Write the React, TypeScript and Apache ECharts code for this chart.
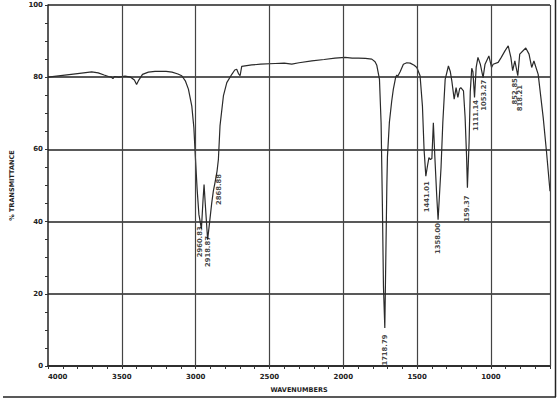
import React, { useEffect, useRef } from "react";
import * as echarts from "echarts";

const wavenumbers = [
  4000, 3900, 3800, 3704, 3660, 3620, 3590, 3570, 3560, 3550, 3520, 3478, 3440, 3415, 3400, 3385, 3360, 3320, 3275, 3200,
  3160, 3120, 3094, 3070, 3049, 3026, 3012, 3002, 2990, 2978, 2960.83, 2950, 2943, 2935, 2918.87, 2905, 2891, 2880, 2868.88, 2855,
  2846, 2835, 2812, 2789, 2755, 2735, 2722, 2710, 2699, 2688, 2620, 2560, 2462, 2400, 2349, 2300, 2213, 2130, 2056, 1988,
  1940, 1898, 1850, 1807, 1785, 1773, 1760, 1755, 1744, 1735, 1728, 1718.79, 1712, 1705, 1701, 1688, 1672, 1661, 1650, 1645,
  1638, 1632, 1615, 1593, 1570, 1547, 1520, 1502, 1480, 1464, 1453, 1441.01, 1430, 1420, 1410, 1400, 1390, 1380, 1367, 1358,
  1345, 1338, 1326, 1310, 1288, 1275, 1265, 1249, 1236, 1224, 1212, 1204, 1186, 1175, 1165, 1159.37, 1148, 1140, 1130, 1122,
  1111.14, 1100, 1088, 1072, 1053.27, 1040, 1014, 996, 985, 951, 930, 905, 883, 865, 852.85, 838, 818.21, 805, 764, 742,
  724, 709, 680, 646, 624, 600
];
const transmittance = [
  80.0, 80.5, 81.0, 81.5, 81.2, 80.6, 80.2, 80.0, 79.6, 80.2, 80.0, 80.3, 80.0, 79.2, 78.0, 79.2, 80.8, 81.4, 81.6, 81.6,
  81.4, 80.9, 80.4, 79.0, 76.7, 72.0, 66.0, 58.0, 49.0, 42.0, 38.0, 46.0, 50.3, 45.0, 35.0, 40.0, 45.2, 48.5, 50.8, 54.0,
  57.2, 66.5, 74.8, 78.5, 80.8, 82.0, 82.2, 81.0, 80.4, 83.0, 83.4, 83.6, 83.8, 83.9, 83.6, 84.0, 84.5, 84.9, 85.3, 85.5,
  85.3, 85.3, 85.2, 85.0, 84.3, 83.3, 80.5, 79.4, 67.4, 44.0, 22.0, 10.5, 30.0, 50.0, 58.0, 67.4, 73.4, 76.7, 79.0, 80.0,
  80.6, 80.2, 81.5, 83.6, 84.0, 83.9, 83.3, 82.7, 80.4, 72.0, 60.0, 52.6, 55.4, 57.7, 57.2, 57.5, 67.4, 58.0, 47.0, 40.5,
  50.0, 55.0, 67.4, 79.4, 83.1, 81.5, 79.0, 73.9, 77.1, 74.4, 76.8, 77.1, 76.2, 68.9, 58.0, 49.4, 62.0, 76.0, 82.5, 81.5,
  74.4, 82.7, 85.5, 83.6, 79.9, 83.6, 85.9, 82.7, 83.6, 84.1, 85.5, 87.3, 88.7, 85.5, 81.8, 84.5, 80.4, 86.4, 88.1, 86.4,
  82.7, 84.5, 80.8, 68.8, 59.5, 48.4
];

const peakWavenumbers = [2960.83, 2918.87, 2868.88, 1718.79, 1441.01, 1358.0, 1159.37, 1111.14, 1053.27, 852.85, 818.21];
const peakLabels = ["2960.83", "2918.87", "2868.88", "1718.79", "1441.01", "1358.00", "159.37", "1111.14", "1053.27", "852.85", "818.21"];
const peakLabelLevels = [34.4, 31.7, 48.9, 4.4, 46.9, 35.3, 43.6, 69.4, 75.0, 76.1, 74.2];
const peakLabelShift = [-1, 0, 4, 0, 1, 0, 0, 1, 1, 2, 2];

const gridWavenumbers = [3500, 3000, 2500, 2000, 1500, 1000, 600];
const yTicks = [0, 20, 40, 60, 80, 100];

const FONT = "DejaVu Sans";

export default function App() {
  const ref = useRef<HTMLDivElement>(null);
  useEffect(() => {
    if (!ref.current) return;
    const chart = echarts.init(ref.current, undefined, { renderer: "svg" });
    const lineData = wavenumbers.map((w, i) => [w, transmittance[i]]);
    const textStyle = { fontSize: 7, fontWeight: "bold" as const, color: "#222", fontFamily: FONT };
    const labelData = peakWavenumbers.map((w, i) => ({
      value: [w, peakLabelLevels[i]],
      name: peakLabels[i],
      label: { position: [peakLabelShift[i], 0] },
    }));
    chart.setOption({
      animation: false,
      backgroundColor: "#fff",
      grid: { left: 48, right: 7, top: 5, bottom: 33 },
      xAxis: {
        type: "value",
        min: 600,
        max: 4000,
        interval: 100,
        inverse: true,
        axisLine: { show: true, lineStyle: { color: "#222", width: 1.5 } },
        axisTick: { show: true, length: 3, lineStyle: { color: "#333", width: 1 } },
        axisLabel: {
          ...textStyle,
          margin: 7,
          alignMaxLabel: "left",
          formatter: (v: number) => (v % 500 === 0 && v >= 1000 ? String(v) : ""),
        },
        splitLine: { show: false },
        name: "WAVENUMBERS",
        nameLocation: "middle",
        nameGap: 20,
        nameTextStyle: { ...textStyle, fontSize: 6.5 },
      },
      yAxis: {
        type: "value",
        min: yTicks[0],
        max: yTicks[yTicks.length - 1],
        interval: 20,
        axisLine: { show: true, lineStyle: { color: "#222", width: 1.5 } },
        axisTick: { show: true, length: 3, lineStyle: { color: "#333" } },
        minorTick: { show: true, splitNumber: 4, length: 3, lineStyle: { color: "#333" } },
        splitLine: { show: true, lineStyle: { color: "#222", width: 1.6 } },
        axisLabel: { ...textStyle, margin: 5 },
        name: "% TRANSMITTANCE",
        nameLocation: "middle",
        nameRotate: 90,
        nameGap: 33,
        nameTextStyle: { ...textStyle, fontSize: 6.5 },
      },
      series: [
        {
          type: "line",
          data: lineData,
          showSymbol: false,
          symbol: "none",
          lineStyle: { color: "#2a2a2a", width: 1.2 },
          silent: true,
          markLine: {
            silent: true,
            symbol: "none",
            label: { show: false },
            lineStyle: { color: "#444", width: 1.2, type: "solid" },
            data: gridWavenumbers.map((w) => ({ xAxis: w })),
          },
          z: 3,
        },
        {
          type: "scatter",
          data: labelData,
          symbolSize: 0,
          silent: true,
          itemStyle: { color: "#222" },
          label: {
            show: true,
            rotate: 90,
            align: "center",
            verticalAlign: "middle",
            formatter: (p: any) => p.name,
            fontSize: 6.8,
            fontWeight: "bold",
            fontFamily: FONT,
            color: "#111",
            textBorderWidth: 0,
          },
          z: 4,
        },
      ],
      graphic: [
        { type: "line", shape: { x1: 3, y1: 397, x2: 556, y2: 397 }, style: { stroke: "#222", lineWidth: 1.5 } },
        { type: "line", shape: { x1: 555.5, y1: 0, x2: 555.5, y2: 397 }, style: { stroke: "#222", lineWidth: 1.5 } },
      ],
    });
    return () => chart.dispose();
  }, []);
  return (
    <div
      ref={ref}
      style={{ position: "fixed", left: 0, top: 0, width: 557, height: 399, background: "#fff" }}
    />
  );
}
